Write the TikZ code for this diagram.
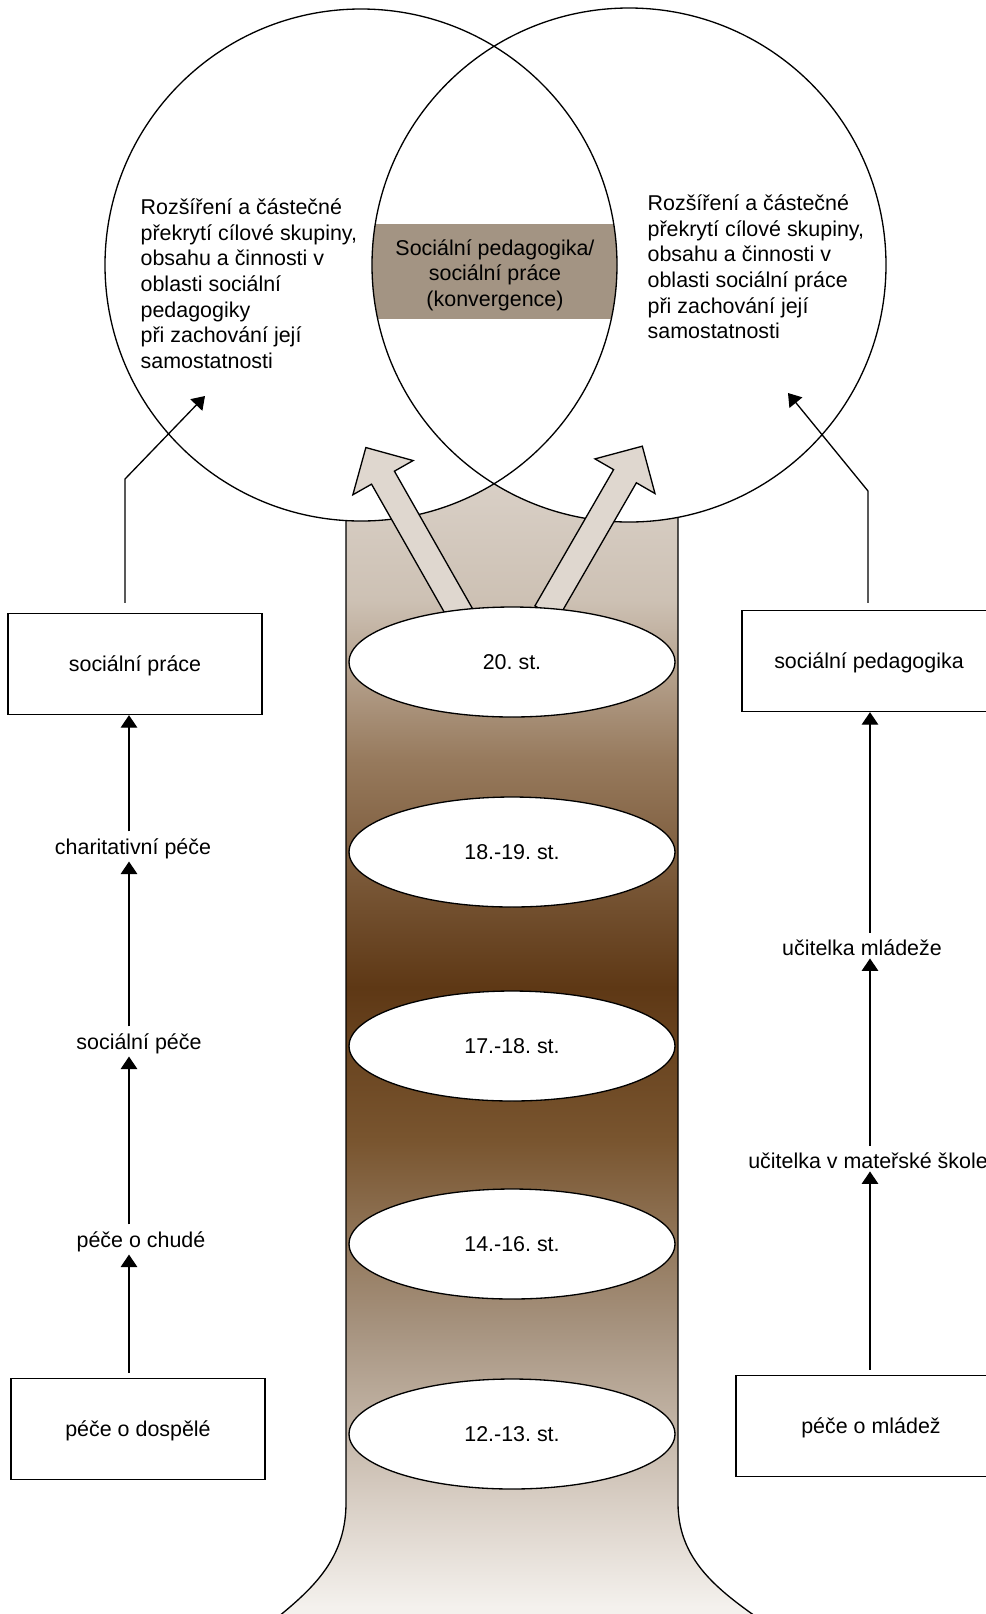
\documentclass[tikz,border=0pt]{standalone}
\usepackage{fontspec}
\setmainfont{Liberation Sans}
\usetikzlibrary{arrows.meta,shapes.geometric,shapes.arrows}
\frenchspacing

\definecolor{trunkA}{RGB}{244,241,237}
\definecolor{trunkB}{RGB}{216,206,196}
\definecolor{trunkC}{RGB}{167,148,128}
\definecolor{trunkD}{RGB}{121,85,47}
\definecolor{trunkE}{RGB}{94,56,21}
\definecolor{trunkF}{RGB}{151,122,93}
\definecolor{trunkG}{RGB}{205,193,180}
\definecolor{trunkH}{RGB}{218,209,200}
\definecolor{bandfill}{RGB}{163,148,131}
\definecolor{arrowfill}{RGB}{223,215,207}

\pgfdeclareverticalshading{trunkshade}{100bp}{color(0bp)=(trunkA); color(26bp)=(trunkA); color(30.6bp)=(trunkB); color(37.9bp)=(trunkC); color(46.1bp)=(trunkD); color(52.7bp)=(trunkE); color(62.5bp)=(trunkF); color(69.4bp)=(trunkG); color(75bp)=(trunkH); color(100bp)=(trunkH)}

\begin{document}
\begin{tikzpicture}[
    x=0.02cm, y=-0.02cm,
    font=\fontsize{12.2pt}{14.6pt}\selectfont,
    line width=0.75pt,
    box/.style={rectangle, draw=black, fill=white, minimum width=5.08cm, minimum height=2.02cm, inner sep=0pt, text depth=0pt},
    stage/.style={ellipse, draw=black, fill=white, minimum width=6.52cm, minimum height=2.2cm, inner sep=0pt},
    lbl/.style={inner sep=1pt},
    circtext/.style={align=left, anchor=north west, inner sep=0pt},
    bigarrow/.style={single arrow, draw=black, fill=arrowfill, inner xsep=0pt, inner ysep=0.25cm, single arrow head extend=0.43cm, minimum height=3.84cm, anchor=tail},
    flow/.style={-{Triangle[length=0.25cm,width=0.33cm]}, shorten <=0.1cm}
]
\useasboundingbox (0,0) rectangle (986,1614);
\clip (0,0) rectangle (986,1614);

% trunk
\shade[shading=trunkshade, draw=black] (346,470) -- (346,1503)
    .. controls (346,1565) and (305,1595) .. (262,1630) -- (775,1630)
    .. controls (725,1595) and (678,1565) .. (678,1503) -- (678,470) -- cycle;

% the two fields
\coordinate (cL) at (361,265);
\coordinate (cR) at (629,265);
\fill[white] (cL) circle (256) (cR) circle (257);
\begin{scope}
\clip (cL) circle (256);
\clip (cR) circle (257);
\fill[bandfill] (340,224) rectangle (660,319);
\end{scope}
\draw (cL) circle (256) (cR) circle (257);

\node[circtext] (txtL) at (140,198) {Rozšíření a částečné\\
překrytí cílové skupiny,\\
obsahu a činnosti v\\
oblasti sociální\\
pedagogiky\\
při zachování její\\
samostatnosti};
\node[circtext] (txtR) at (647,194) {Rozšíření a částečné\\
překrytí cílové skupiny,\\
obsahu a činnosti v\\
oblasti sociální práce\\
při zachování její\\
samostatnosti};
\node[align=center, inner sep=0pt] (conv) at (495,275) {Sociální pedagogika/\\
sociální práce\\
(konvergence)};

% block arrows
\node[bigarrow, rotate=119.6] (upL) at (461,615) {};
\node[bigarrow, rotate=60] (upR) at (546,613) {};

% centuries
\node[stage] (s20) at (512,662) {20. st.};
\node[stage] (s18) at (512,852) {18.-19. st.};
\node[stage] (s17) at (512,1046) {17.-18. st.};
\node[stage] (s14) at (512,1244) {14.-16. st.};
\node[stage] (s12) at (512,1434) {12.-13. st.};

% left column
\node[box] (prace) at (135,664) {sociální práce};
\node[lbl] (charita) at (133,849) {charitativní péče};
\node[lbl] (socpece) at (139,1044) {sociální péče};
\node[lbl] (chude) at (141,1242) {péče o chudé};
\node[box] (dosp) at (138,1429) {péče o dospělé};

% right column
\node[box] (pedag) at (869,661) {sociální pedagogika};
\node[lbl] (ucmlad) at (862,948) {učitelka mládeže};
\node[lbl] (ucmat) at (868,1161) {učitelka v mateřské škole};
\node[box, minimum width=5.4cm] (mladez) at (871,1426) {péče o mládež};

\coordinate (colL) at (129,0);
\coordinate (colR) at (870,0);
\draw[flow] (dosp.north -| colL) -- (chude.south -| colL);
\draw[flow] (chude.north -| colL) -- (socpece.south -| colL);
\draw[flow] (socpece.north -| colL) -- (charita.south -| colL);
\draw[flow] (charita.north -| colL) -- (prace.south -| colL);
\draw[flow] (mladez.north -| colR) -- (ucmat.south -| colR);
\draw[flow] (ucmat.north -| colR) -- (ucmlad.south -| colR);
\draw[flow] (ucmlad.north -| colR) -- (pedag.south -| colR);

\coordinate (bendL) at (125,479);
\coordinate (tipL) at (205,396);
\coordinate (bendR) at (868,491);
\coordinate (tipR) at (788,393);
\draw[flow, shorten <=0.2cm] (prace.north -| bendL) -- (bendL) -- (tipL);
\draw[flow, shorten <=0.14cm] (pedag.north -| bendR) -- (bendR) -- (tipR);
\end{tikzpicture}
\end{document}
